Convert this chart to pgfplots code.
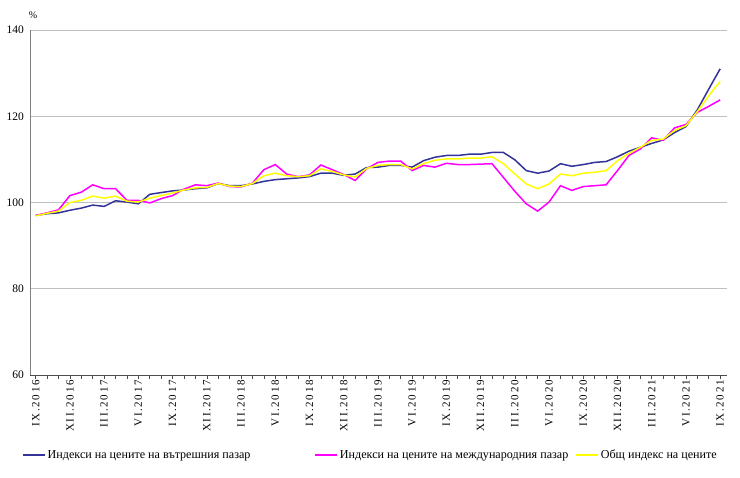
\documentclass[border=0pt]{standalone}
\usepackage{fontspec}
\setmainfont{Liberation Serif}
\usepackage{pgfplots}
\pgfplotsset{compat=1.18}
\usepackage{pgfplotstable}
\definecolor{cdom}{RGB}{51,51,153}
\definecolor{cint}{RGB}{255,0,255}
\definecolor{ctot}{RGB}{255,255,0}
\definecolor{cgrid}{RGB}{192,192,192}
\definecolor{caxis}{RGB}{128,128,128}

\pgfplotstableread{
i dom int tot
0 97.0 97.0 96.9
1 97.4 97.6 97.5
2 97.6 98.3 98.0
3 98.2 101.6 100.0
4 98.7 102.4 100.5
5 99.4 104.1 101.5
6 99.1 103.2 101.0
7 100.4 103.2 101.5
8 100.1 100.5 100.3
9 99.7 100.5 100.1
10 101.9 99.9 101.0
11 102.3 100.9 101.6
12 102.7 101.6 102.2
13 102.9 103.1 102.9
14 103.2 104.1 103.4
15 103.4 103.9 103.5
16 104.4 104.5 104.4
17 103.9 103.7 103.8
18 103.9 103.6 103.7
19 104.3 104.5 104.4
20 104.9 107.6 106.2
21 105.3 108.8 106.8
22 105.5 106.6 106.2
23 105.7 106.0 106.0
24 106.0 106.4 106.2
25 106.8 108.7 107.8
26 106.8 107.6 107.2
27 106.3 106.5 106.4
28 106.6 105.1 105.9
29 108.1 107.8 107.9
30 108.2 109.3 108.6
31 108.6 109.6 108.8
32 108.6 109.6 108.8
33 108.2 107.4 107.8
34 109.7 108.6 109.0
35 110.5 108.2 109.8
36 110.9 109.1 110.1
37 110.9 108.8 110.1
38 111.2 108.8 110.3
39 111.2 108.9 110.3
40 111.6 109.0 110.6
41 111.6 105.8 109.0
42 109.9 102.6 106.6
43 107.4 99.7 104.3
44 106.8 98.0 103.2
45 107.3 100.1 104.3
46 109.0 103.9 106.6
47 108.4 102.8 106.2
48 108.8 103.7 106.8
49 109.3 103.9 107.0
50 109.5 104.1 107.4
51 110.6 107.4 109.7
52 111.9 110.9 111.4
53 112.8 112.4 112.8
54 113.7 115.0 114.4
55 114.5 114.4 114.7
56 116.2 117.3 116.7
57 117.6 118.1 117.8
58 121.5 120.9 121.1
59 126.3 122.3 124.8
60 131.0 123.8 128.1
}\data

\begin{document}
\begin{tikzpicture}
\useasboundingbox (-30bp,-103bp) rectangle (710bp,375bp);
\begin{axis}[
  scale only axis,
  width=697bp, height=345bp,
  xmin=-0.5, xmax=60.6,
  ymin=60, ymax=140,
  axis x line*=bottom, axis y line*=left,
  x axis line style={draw=black!70, line width=0.8bp, -},
  y axis line style={draw=caxis, line width=0.8bp, -},
  ytick={60,80,100,120,140},
  ymajorgrids,
  grid style={draw=cgrid, line width=1bp},
  ytick style={draw=none},
  xtick={0,3,...,60},
  minor xtick={0,1,...,60},
  tick align=outside,
  major tick length=4bp, minor tick length=4bp,
  xtick style={draw=black!70, line width=0.6bp},
  minor tick style={draw=black!70, line width=0.6bp},
  xticklabels={IX.2016,XII.2016,III.2017,VI.2017,IX.2017,XII.2017,III.2018,VI.2018,IX.2018,XII.2018,III.2019,VI.2019,IX.2019,XII.2019,III.2020,VI.2020,IX.2020,XII.2020,III.2021,VI.2021,IX.2021},
  xticklabel style={rotate=90, anchor=east, inner sep=1bp, yshift=0bp,
    font=\fontsize{11bp}{12bp}\selectfont\addfontfeatures{LetterSpace=15}},
  yticklabel style={font=\fontsize{11.5bp}{13bp}\selectfont, inner sep=2bp},
  /pgf/number format/assume math mode=true,
  legend columns=3,
  legend style={at={(axis description cs:-0.0115,-0.232)}, anchor=west,
    draw=none, fill=none, inner sep=0pt,
    font=\fontsize{12.1bp}{13bp}\selectfont,
    /tikz/every even column/.append style={column sep=0bp}},
  legend cell align=left,
  legend image code/.code={\draw[#1, line width=1.5bp] (0bp,0bp) -- (22bp,0bp);},
]
\addplot[cdom, line width=1.5bp] table[x=i, y=dom] {\data};
\addlegendentry{Индекси на цените на вътрешния пазар\hspace*{62bp}}
\addplot[cint, line width=1.5bp] table[x=i, y=int] {\data};
\addlegendentry{Индекси на цените на международния пазар\hspace*{5bp}}
\addplot[ctot, line width=1.5bp] table[x=i, y=tot] {\data};
\addlegendentry{Общ индекс на цените}
\end{axis}
\node[font=\fontsize{10bp}{12bp}\selectfont] at (3bp,360bp) {\%};
\end{tikzpicture}
\end{document}
